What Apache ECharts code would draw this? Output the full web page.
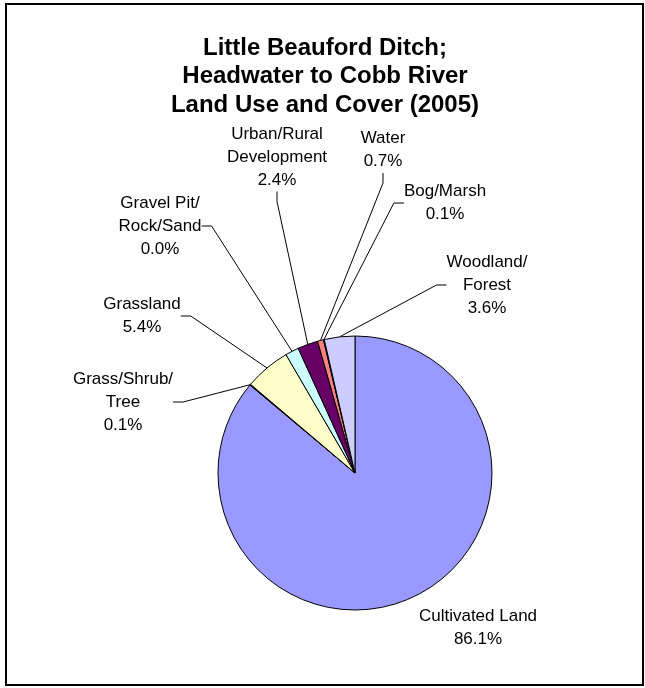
<!DOCTYPE html>
<html>
<head>
<meta charset="utf-8">
<title>Little Beauford Ditch land use</title>
<script src="https://cdn.jsdelivr.net/npm/echarts@6/dist/echarts.min.js"></script>
<style>
  html, body { margin: 0; padding: 0; background: #fff; }
  #chart { width: 645px; height: 688px; }
</style>
</head>
<body>
<div id="chart"></div>
<script>
// land use categories, clockwise from 12 o'clock
var categories = [
  "Cultivated Land",
  "Grass/Shrub/\nTree",
  "Grassland",
  "Gravel Pit/\nRock/Sand",
  "Urban/Rural\nDevelopment",
  "Water",
  "Bog/Marsh",
  "Woodland/\nForest"
];
// slice sizes (%)
var shares = [86.1, 0.1, 5.4, 1.6, 2.4, 0.7, 0.1, 3.6];
// percentages printed on the chart
var shareLabels = ["86.1%", "0.1%", "5.4%", "0.0%", "2.4%", "0.7%", "0.1%", "3.6%"];

var colors = ["#9999FF", "#993366", "#FFFFCC", "#CCFFFF", "#660066", "#FF8080", "#0066CC", "#CCCCFF"];
// where each label block sits (center)
var labelPos = [[478, 628], [123, 402], [142, 316], [160, 226], [277, 157], [383, 150], [445, 203], [487, 285]];

var font = "'Liberation Sans', Arial, sans-serif";
var myChart = echarts.init(document.getElementById("chart"));

var pieData = categories.map(function(name, i) {
  return {
    name: name,
    value: shares[i],
    itemStyle: { color: colors[i] },
    labelLine: { show: i !== 0 }
  };
});

var option = {
  backgroundColor: "#fff",
  animation: false,
  title: {
    text: "Little Beauford Ditch;\nHeadwater to Cobb River\nLand Use and Cover (2005)",
    left: 320,
    top: 29,
    textAlign: "center",
    textStyle: {
      fontFamily: font,
      fontSize: 24,
      fontWeight: "bold",
      color: "#000",
      lineHeight: 28.5
    }
  },
  graphic: [
    {
      type: "rect",
      shape: { x: 6, y: 4, width: 637, height: 681 },
      style: { fill: null, stroke: "#000", lineWidth: 2 },
      z: 10
    }
  ],
  series: [
    {
      type: "pie",
      center: [355, 473],
      radius: 137,
      startAngle: 90,
      clockwise: true,
      avoidLabelOverlap: false,
      itemStyle: { borderColor: "#000", borderWidth: 1 },
      emphasis: { disabled: true },
      label: {
        show: true,
        position: "outside",
        fontFamily: font,
        fontSize: 17,
        lineHeight: 23,
        color: "#000",
        align: "center",
        formatter: function(p) {
          return p.name + "\n" + shareLabels[p.dataIndex];
        }
      },
      labelLine: {
        show: true,
        length: 10,
        length2: 10,
        smooth: false,
        lineStyle: { color: "#000", width: 1 }
      },
      labelLayout: function(params) {
        var pos = labelPos[params.dataIndex];
        return {
          x: pos[0],
          y: pos[1],
          align: "center",
          verticalAlign: "middle"
        };
      },
      data: pieData
    }
  ]
};

myChart.setOption(option, true);
</script>
</body>
</html>
